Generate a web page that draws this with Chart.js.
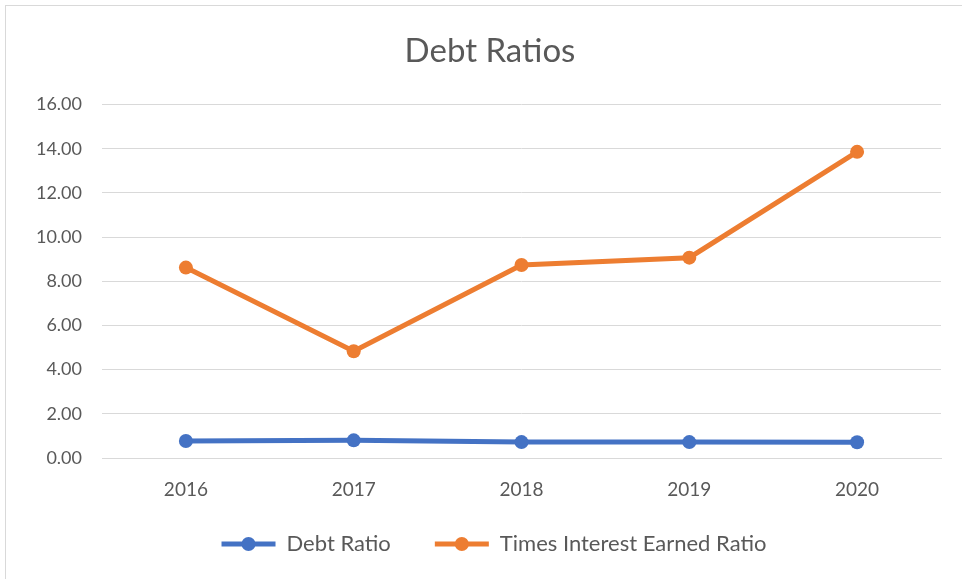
<!DOCTYPE html>
<html>
<head>
<meta charset="utf-8">
<script src="https://cdn.jsdelivr.net/npm/chart.js@4"></script>
<style>
  body { margin: 0; background: #fff; }
  #frame { position: absolute; left: 5px; top: 5px; width: 962px; height: 580px; border: 1px solid #d9d9d9; box-sizing: border-box; }
  #wrap { position: absolute; left: 0; top: 0; width: 962px; height: 579px; }
</style>
</head>
<body>
<div id="frame"></div>
<div id="wrap"><canvas id="chart" width="962" height="579"></canvas></div>
<script>
// Chart data
const years = ['2016', '2017', '2018', '2019', '2020'];
const debtRatio = [0.77, 0.80, 0.72, 0.72, 0.71];
const timesInterestEarned = [8.62, 4.83, 8.74, 9.07, 13.86];
const yTicks = [0, 2, 4, 6, 8, 10, 12, 14, 16];

const BLUE = '#4472C4';
const ORANGE = '#ED7D31';
const TEXT = '#595959';
const GRID = '#D9D9D9';
const FONT = 'Lato, "Open Sans", sans-serif';

// nudge title and legend so they sit where the original has them
const blockShift = {
  id: 'blockShift',
  afterLayout(chart) {
    const t = chart.titleBlock;
    if (t) { t.left += 17; t.right += 17; }
    const l = chart.legend;
    if (l) {
      l.left += 21; l.right += 21;
      l.top -= 14; l.bottom -= 14;
      (l.legendHitBoxes || []).forEach(b => { b.left += 21; });
    }
  },
  // marker dot on top of each legend line
  afterDraw(chart) {
    const legend = chart.legend;
    if (!legend || !legend.legendHitBoxes) return;
    const ctx = chart.ctx;
    legend.legendHitBoxes.forEach((box, i) => {
      const ds = chart.data.datasets[i];
      ctx.save();
      ctx.fillStyle = ds.borderColor;
      ctx.beginPath();
      ctx.arc(box.left + 27, box.top + box.height / 2, 7, 0, Math.PI * 2);
      ctx.fill();
      ctx.restore();
    });
  }
};

new Chart(document.getElementById('chart'), {
  type: 'line',
  data: {
    labels: years,
    datasets: [
      {
        label: 'Debt Ratio',
        data: debtRatio,
        borderColor: BLUE,
        backgroundColor: BLUE,
        borderWidth: 5,
        pointRadius: 7,
        pointHoverRadius: 7,
        pointBorderWidth: 0,
      },
      {
        label: 'Times Interest Earned Ratio',
        data: timesInterestEarned,
        borderColor: ORANGE,
        backgroundColor: ORANGE,
        borderWidth: 5,
        pointRadius: 7,
        pointHoverRadius: 7,
        pointBorderWidth: 0,
      },
    ],
  },
  options: {
    responsive: false,
    animation: false,
    events: [],
    layout: { padding: { left: 5, right: 21, top: 24, bottom: 0 } },
    plugins: {
      title: {
        display: true,
        text: 'Debt Ratios',
        color: TEXT,
        font: { family: FONT, size: 33, weight: 'normal' },
        padding: { top: 8, bottom: 33 },
      },
      legend: {
        position: 'bottom',
        labels: {
          color: TEXT,
          font: { family: FONT, size: 22 },
          boxWidth: 54,
          boxHeight: 5,
          padding: 44,
          generateLabels(chart) {
            return chart.data.datasets.map((ds, i) => ({
              text: ds.label,
              fillStyle: ds.borderColor,
              strokeStyle: ds.borderColor,
              lineWidth: 0,
              fontColor: TEXT,
              datasetIndex: i,
            }));
          },
        },
      },
      tooltip: { enabled: false },
    },
    scales: {
      x: {
        offset: true,
        grid: { display: false, drawTicks: false },
        border: { display: true, color: GRID, width: 1 },
        ticks: { color: TEXT, font: { family: FONT, size: 19 }, padding: 20 },
        afterFit(scale) { scale.height = 45; },
      },
      y: {
        min: 0,
        max: 16,
        afterBuildTicks(scale) { scale.ticks = yTicks.map(v => ({ value: v })); },
        grid: { color: GRID, lineWidth: 1, drawTicks: false },
        border: { display: false },
        ticks: {
          color: TEXT,
          font: { family: FONT, size: 18 },
          padding: 20,
          callback: v => v.toFixed(2),
        },
        afterFit(scale) { scale.width = 97; },
      },
    },
  },
  plugins: [blockShift],
});
</script>
</body>
</html>
